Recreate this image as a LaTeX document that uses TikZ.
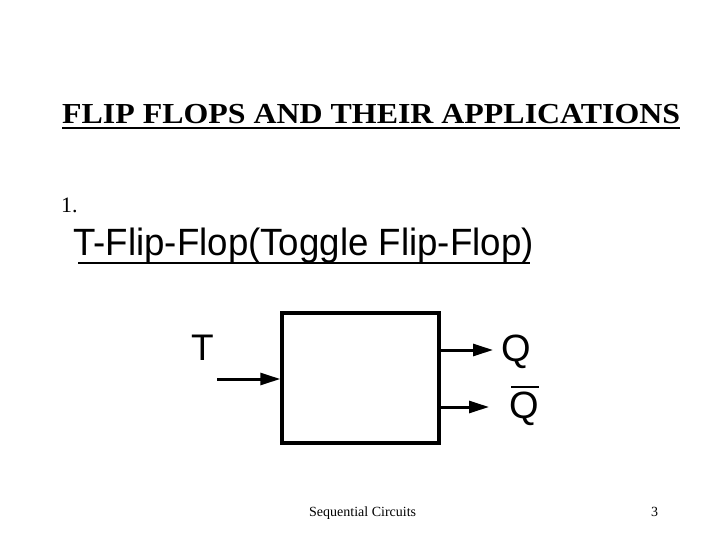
\documentclass[tikz,border=0pt]{standalone}
\usepackage{fontspec}
\setmainfont{Liberation Serif}
\newfontfamily\titlefont[FakeStretch=1.1]{Liberation Serif}
\newfontfamily\arial{Liberation Sans}
\newfontfamily\arialn[FakeStretch=0.965]{Liberation Sans}
\usetikzlibrary{arrows.meta}
\begin{document}
\begin{tikzpicture}[x=1pt,y=-1pt,
  wire/.style={line width=3pt,-{Triangle[length=20pt,width=12pt]}},
  lbl/.style={inner sep=0pt,font=\arial\fontsize{37}{37}\selectfont},
  qlbl/.style={inner sep=0pt,anchor=base west,font=\arial\fontsize{38}{38}\selectfont},
  uline/.style={line width=2pt}]
\useasboundingbox (0,0) rectangle (720,540);
\fill[white] (0,0) rectangle (720,540);
\node[anchor=base west,inner sep=0pt,font=\titlefont\bfseries\fontsize{29}{29}\selectfont] (title) at (62,124) {FLIP FLOPS AND THEIR APPLICATIONS};
\draw[uline] ([yshift=-4pt]title.base west) -- ([yshift=-4pt]title.base east);
\node[anchor=base west,inner sep=0pt,font=\fontsize{22}{22}\selectfont] (num) at (61,213) {1.};
\node[anchor=base west,inner sep=0pt,font=\arialn\fontsize{38}{38}\selectfont] (sub) at (73,255) {T-Flip-Flop(Toggle Flip-Flop)};
\coordinate (ul1) at (78,263);
\coordinate (ul2) at (530,263);
\draw[uline] (ul1) -- (ul2);
\node[draw,line width=3.5pt,minimum width=157pt,minimum height=130pt,inner sep=0pt] (box) at (360.5,378) {};
\node[lbl,anchor=base west] (t) at (191,360) {T};
\coordinate (tin) at (217,379);
\draw[wire] (tin) -- (box.west |- tin);
\node[qlbl] (q) at (501,361) {Q};
\node[qlbl] (qb) at (509,418) {Q};
\coordinate (bar1) at (511,387);
\coordinate (bar2) at (539,387);
\draw[line width=2.5pt] (bar1) -- (bar2);
\coordinate (qo) at (439,350);
\coordinate (qbo) at (439,407);
\draw[wire] (qo) -- (493,350);
\draw[wire] (qbo) -- (489,407);
\node[anchor=base west,inner sep=0pt,font=\fontsize{14}{14}\selectfont] (foot) at (309,516) {Sequential Circuits};
\node[anchor=base west,inner sep=0pt,font=\fontsize{14}{14}\selectfont] (pg) at (651,516) {3};
\end{tikzpicture}
\end{document}
